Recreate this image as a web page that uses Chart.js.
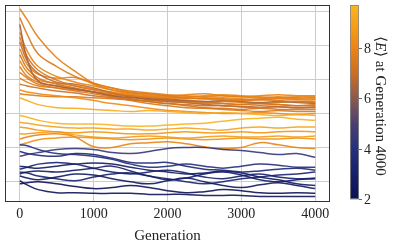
<!DOCTYPE html>
<html>
<head>
<meta charset="utf-8">
<script src="https://cdn.jsdelivr.net/npm/chart.js@4.4.1/dist/chart.umd.min.js"></script>
<style>
  html, body { margin: 0; padding: 0; background: #fff; }
</style>
</head>
<body>
<canvas id="chart" width="397" height="250"></canvas>
<script>
// Generations sampled along each run
const generations = [0, 100, 250, 500, 750, 1000, 1250, 1500, 1750, 2000, 2250, 2500, 2750, 3000, 3250, 3500, 3750, 4000];
const xTicks = [0, 1000, 2000, 3000, 4000];
const yGrid = [0, 10, 20, 30, 40, 50];
const cbTicks = [2, 4, 6, 8];
const cbRange = [2, 9.7];

// Runs that start high and settle into the orange bundle
const bundleRuns = [
  [50.9, 47.7, 42.5, 36.5, 32.5, 29.0, 27.6, 26.7, 26.1, 25.6, 25.3, 25.0, 25.3, 25.0, 24.7, 25.0, 24.7, 24.7],
  [48.3, 43.4, 37.6, 33.9, 31.0, 29.0, 27.6, 26.4, 25.9, 25.3, 24.7, 24.4, 24.1, 23.9, 24.1, 23.9, 23.6, 23.6],
  [46.3, 36.2, 29.6, 28.2, 27.3, 26.4, 25.3, 24.7, 24.4, 24.1, 23.9, 23.6, 23.9, 23.6, 23.3, 23.6, 23.3, 23.0],
  [44.0, 38.5, 33.9, 31.0, 29.3, 28.2, 27.0, 26.1, 25.6, 25.3, 25.6, 25.9, 25.3, 25.0, 25.3, 25.6, 25.3, 25.3],
  [42.5, 36.8, 32.8, 29.9, 28.2, 27.0, 26.1, 25.3, 24.7, 24.4, 23.9, 23.6, 23.0, 22.7, 23.0, 22.7, 22.4, 22.4],
  [41.1, 35.6, 31.9, 29.3, 28.7, 27.6, 26.1, 25.0, 24.1, 23.6, 23.3, 22.7, 22.4, 22.1, 22.4, 22.1, 21.8, 21.8],
  [39.1, 34.5, 31.6, 30.5, 30.7, 28.7, 27.0, 25.9, 25.3, 25.0, 24.7, 24.4, 24.7, 24.4, 24.1, 24.4, 24.1, 24.1],
  [37.4, 33.3, 30.5, 28.7, 27.6, 26.4, 25.3, 24.4, 23.6, 23.0, 22.4, 21.8, 21.6, 21.3, 21.6, 21.3, 21.3, 21.3],
  [35.6, 32.2, 29.9, 29.0, 28.2, 27.3, 26.4, 25.6, 25.0, 24.7, 25.0, 25.3, 25.6, 25.3, 25.0, 24.7, 25.0, 25.0],
  [33.9, 31.0, 29.3, 28.2, 27.3, 26.4, 25.6, 25.0, 24.4, 23.9, 23.6, 23.3, 23.6, 23.3, 23.0, 23.3, 23.6, 23.3],
  [32.2, 30.5, 28.7, 27.6, 26.7, 25.9, 25.0, 23.9, 23.0, 22.4, 21.8, 21.6, 21.3, 21.0, 20.7, 21.0, 20.7, 20.7],
  [30.5, 29.3, 28.2, 27.6, 27.0, 26.4, 25.9, 25.3, 25.0, 24.7, 24.4, 24.7, 24.4, 24.1, 24.4, 24.7, 24.4, 24.4],
  [28.7, 28.2, 27.6, 26.7, 26.1, 25.3, 24.7, 24.1, 23.6, 23.0, 22.7, 22.4, 22.4, 22.1, 21.8, 22.1, 21.8, 22.1],
  [27.0, 26.4, 25.9, 25.3, 24.7, 23.9, 23.0, 22.4, 21.6, 21.0, 20.7, 20.4, 20.1, 20.1, 20.4, 20.1, 19.8, 20.1],
  [25.9, 25.6, 25.3, 25.0, 25.0, 24.7, 24.4, 24.1, 23.9, 23.6, 23.3, 23.0, 23.0, 22.7, 23.0, 22.7, 22.4, 22.7]
];
const bundleE = [7.7, 7.5, 6.4, 7.9, 7.3, 6.8, 7.8, 7.2, 8.0, 7.6, 7.4, 7.7, 7.0, 8.2, 7.5];

// Flatter runs below the bundle (yellow / orange)
const lowRuns = [
  [24.7, 23.9, 22.7, 21.8, 21.6, 21.3, 21.0, 20.7, 21.0, 20.7, 20.4, 20.1, 20.4, 20.1, 19.8, 19.5, 19.8, 19.5],
  [19.5, 19.0, 18.1, 17.2, 17.0, 17.0, 16.7, 16.4, 16.4, 16.7, 17.0, 17.2, 17.8, 18.4, 18.7, 19.0, 18.4, 18.1],
  [17.5, 17.2, 16.7, 16.1, 15.8, 15.8, 15.5, 15.5, 15.2, 15.5, 15.8, 15.5, 15.2, 15.8, 16.1, 15.8, 16.1, 16.1],
  [16.1, 15.8, 15.2, 14.7, 14.4, 14.7, 14.4, 14.1, 14.1, 14.4, 14.7, 14.4, 14.4, 14.7, 14.4, 14.7, 14.9, 14.7],
  [14.1, 14.1, 14.4, 14.7, 13.8, 13.2, 12.9, 13.2, 13.5, 13.2, 12.9, 13.2, 13.5, 13.2, 13.2, 13.5, 13.2, 13.5],
  [10.9, 11.5, 12.4, 12.9, 13.2, 12.9, 12.6, 12.4, 12.6, 12.9, 12.6, 12.4, 12.6, 12.9, 12.6, 12.6, 12.9, 12.6],
  [12.6, 13.2, 13.8, 14.1, 13.2, 10.3, 10.1, 11.2, 11.5, 11.8, 11.2, 10.3, 9.8, 10.1, 11.5, 10.9, 10.1, 9.8]
];
const lowE = [9.3, 9.6, 9.0, 8.6, 8.8, 8.4, 7.9];

// Low-energy runs (navy)
const blueRuns = [
  [7.5, 8.0, 8.6, 9.5, 9.8, 9.5, 8.6, 8.3, 8.9, 9.8, 10.1, 10.1, 9.5, 9.2, 8.6, 8.0, 8.3, 7.2],
  [10.9, 10.6, 9.5, 8.3, 8.0, 7.5, 6.6, 5.2, 4.3, 4.6, 5.2, 4.6, 4.0, 4.6, 5.2, 4.9, 4.3, 4.3],
  [8.9, 8.3, 7.8, 7.5, 8.3, 8.0, 6.9, 5.7, 5.5, 5.7, 4.6, 3.7, 3.4, 2.9, 3.2, 3.7, 4.0, 3.4],
  [3.7, 4.3, 5.2, 5.7, 5.2, 4.0, 2.9, 2.3, 2.9, 3.4, 2.6, 1.4, 0.9, 1.7, 2.3, 1.4, 0.9, 1.1],
  [2.3, 2.9, 3.2, 2.9, 3.4, 4.0, 4.6, 3.2, 1.7, 0.6, 1.1, 2.3, 2.9, 2.0, 0.6, 0.0, 0.6, 0.9],
  [1.7, 1.1, 0.6, 1.4, 2.3, 2.0, 0.9, 0.0, -0.6, 0.3, 1.1, 0.0, -1.1, -1.7, -0.9, -0.3, -1.1, -2.0],
  [0.3, -0.9, -2.3, -3.2, -3.2, -3.4, -3.4, -3.4, -3.7, -3.7, -3.7, -4.0, -4.0, -4.0, -4.3, -4.3, -4.3, -4.3],
  [-0.6, -0.3, 0.0, -0.6, -1.4, -2.0, -1.7, -1.1, -1.7, -2.6, -3.2, -2.9, -2.3, -2.6, -3.2, -3.4, -3.2, -3.4],
  [4.6, 4.3, 4.0, 4.6, 5.2, 5.5, 5.2, 4.3, 3.4, 2.9, 2.3, 2.6, 3.2, 2.6, 1.4, 0.6, -0.6, -1.1],
  [2.9, 2.6, 1.7, 0.9, 0.3, 1.4, 2.3, 2.6, 1.7, 0.9, 0.0, -0.6, 0.0, 0.9, 1.4, 2.0, 2.3, 2.9]
];
const blueE = [4.4, 3.8, 3.5, 3.0, 2.8, 2.5, 2.2, 2.0, 2.6, 3.2];

// colour map for <E>
const cmapStops = [
  [2.0, [12, 17, 84]],
  [3.0, [22, 31, 106]],
  [4.0, [38, 48, 124]],
  [5.0, [75, 63, 114]],
  [6.0, [138, 90, 78]],
  [7.0, [204, 110, 34]],
  [8.0, [236, 133, 18]],
  [9.0, [246, 162, 26]],
  [9.7, [251, 181, 32]]
];

function cmap(v, alpha = 1) {
  v = Math.max(cmapStops[0][0], Math.min(cmapStops[cmapStops.length - 1][0], v));
  for (let i = 0; i < cmapStops.length - 1; i++) {
    const [v0, c0] = cmapStops[i];
    const [v1, c1] = cmapStops[i + 1];
    if (v <= v1) {
      const t = (v - v0) / (v1 - v0);
      const c = c0.map((x, k) => Math.round(x + (c1[k] - x) * t));
      return `rgba(${c[0]},${c[1]},${c[2]},${alpha})`;
    }
  }
}

const datasets = [];
const addRuns = (runs, energies) => {
  runs.forEach((run, i) => {
    datasets.push({
      data: run.map((y, k) => ({ x: generations[k], y })),
      borderColor: cmap(energies[i], 0.9),
      borderWidth: 1.5,
      pointRadius: 0,
      tension: 0.4,
      fill: false
    });
  });
};
addRuns(blueRuns, blueE);
addRuns(lowRuns, lowE);
addRuns(bundleRuns, bundleE);

const SERIF = '"Liberation Serif", "DejaVu Serif", serif';

// Frame round the axes plus the colour bar
const frameAndBar = {
  id: 'frameAndBar',
  afterDraw(chart) {
    const { ctx, chartArea: a } = chart;
    ctx.save();
    ctx.strokeStyle = '#333';
    ctx.lineWidth = 1;
    ctx.strokeRect(Math.round(a.left) + 0.5, Math.round(a.top) + 0.5,
      Math.round(a.right - a.left) - 1, Math.round(a.bottom - a.top) - 1);

    // colour bar
    const bx = a.right + 20, bw = 9;
    const top = a.top, bot = a.bottom - 3;
    const val2y = v => bot - (v - cbRange[0]) / (cbRange[1] - cbRange[0]) * (bot - top);
    const grad = ctx.createLinearGradient(0, bot, 0, top);
    cmapStops.forEach(([v]) => {
      grad.addColorStop((v - cbRange[0]) / (cbRange[1] - cbRange[0]), cmap(v));
    });
    ctx.fillStyle = grad;
    ctx.fillRect(bx, top, bw, bot - top);
    ctx.strokeStyle = '#888';
    ctx.lineWidth = 0.8;
    ctx.strokeRect(bx + 0.5, top + 0.5, bw - 1, bot - top - 1);

    ctx.fillStyle = '#222';
    ctx.strokeStyle = '#444';
    ctx.font = `14px ${SERIF}`;
    ctx.textAlign = 'left';
    ctx.textBaseline = 'middle';
    cbTicks.forEach(v => {
      const y = Math.round(val2y(v)) + 0.5;
      ctx.beginPath();
      ctx.moveTo(bx + bw, y);
      ctx.lineTo(bx + bw + 3, y);
      ctx.stroke();
      ctx.fillText(String(v), bx + bw + 5, y + 1);
    });

    // rotated label: <E> at Generation 4000
    const parts = [
      { t: '\u27E8', f: `15px ${SERIF}` },
      { t: 'E', f: `italic 15px ${SERIF}` },
      { t: '\u27E9 at Generation 4000', f: `15px ${SERIF}` }
    ];
    let total = 0;
    parts.forEach(p => { ctx.font = p.f; p.w = ctx.measureText(p.t).width; total += p.w; });
    ctx.translate(a.right + 50, 106);
    ctx.rotate(Math.PI / 2);
    let x = -total / 2;
    ctx.textBaseline = 'middle';
    parts.forEach(p => { ctx.font = p.f; ctx.fillText(p.t, x, 0); x += p.w; });
    ctx.restore();
  }
};

new Chart(document.getElementById('chart'), {
  type: 'line',
  data: { datasets },
  options: {
    responsive: false,
    animation: false,
    devicePixelRatio: 1,
    layout: { padding: { left: 5, right: 67, top: 5, bottom: 0 } },
    plugins: { legend: { display: false }, tooltip: { enabled: false } },
    scales: {
      x: {
        type: 'linear',
        min: -200,
        max: 4200,
        afterBuildTicks: s => { s.ticks = xTicks.map(v => ({ value: v })); },
        grid: { color: '#cccccc', lineWidth: 1, drawTicks: false },
        border: { display: false },
        ticks: { color: '#222', padding: 4, font: { family: SERIF, size: 14 }, callback: v => String(v) },
        title: {
          display: true,
          text: 'Generation',
          color: '#222',
          padding: { top: 0, bottom: 5 },
          font: { family: SERIF, size: 15 }
        }
      },
      y: {
        type: 'linear',
        min: -6,
        max: 52,
        afterBuildTicks: s => { s.ticks = yGrid.map(v => ({ value: v })); },
        afterFit: s => { s.width = 0; },
        grid: { color: '#cccccc', lineWidth: 1, drawTicks: false },
        border: { display: false },
        ticks: { display: false }
      }
    }
  },
  plugins: [frameAndBar]
});
</script>
</body>
</html>
